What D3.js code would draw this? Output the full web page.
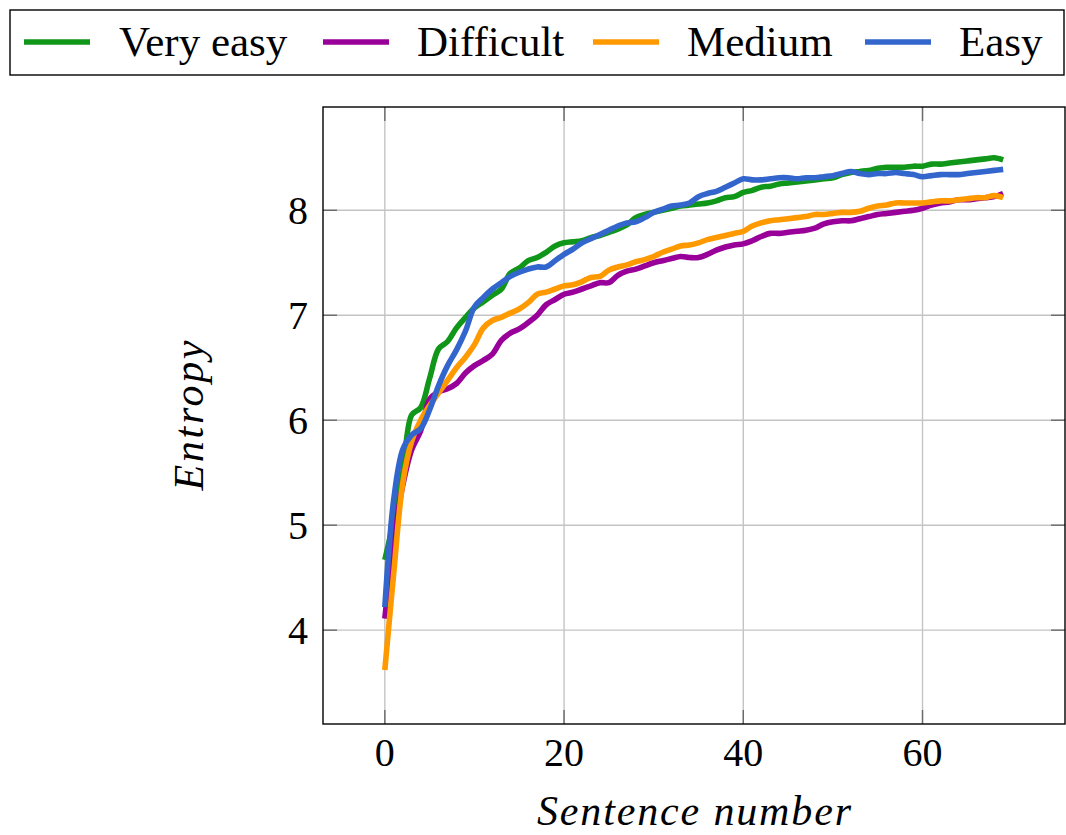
<!DOCTYPE html>
<html>
<head>
<meta charset="utf-8">
<script src="https://cdn.jsdelivr.net/npm/d3@7"></script>
</head>
<body style="margin:0">
<svg id="chart" width="1066" height="835"></svg>
<script>
// ---- data ----
const sentence = d3.range(0, 70);
const seriesNames = ["Very easy", "Difficult", "Medium", "Easy"];
const seriesColors = ["#109618", "#990099", "#ff9900", "#3366cc"];

const veryEasy = [4.67,5.05,5.50,6.05,6.12,6.40,6.68,6.75,6.88,6.98,
  7.07,7.13,7.19,7.25,7.40,7.45,7.52,7.55,7.60,7.66,
  7.69,7.70,7.71,7.74,7.76,7.79,7.82,7.86,7.93,7.96,
  7.98,8.00,8.02,8.04,8.05,8.06,8.07,8.09,8.12,8.13,
  8.17,8.19,8.22,8.23,8.25,8.26,8.27,8.28,8.29,8.30,
  8.31,8.34,8.36,8.37,8.38,8.40,8.41,8.41,8.41,8.42,
  8.42,8.44,8.44,8.45,8.46,8.47,8.48,8.49,8.50,8.48];
const difficult = [4.11,4.85,5.38,5.72,5.90,6.20,6.27,6.30,6.35,6.45,
  6.52,6.57,6.63,6.76,6.83,6.87,6.93,7.00,7.10,7.15,
  7.20,7.22,7.25,7.28,7.31,7.31,7.38,7.42,7.44,7.47,
  7.50,7.52,7.54,7.56,7.55,7.55,7.58,7.62,7.65,7.67,
  7.68,7.71,7.75,7.78,7.78,7.79,7.80,7.81,7.83,7.87,
  7.89,7.90,7.90,7.92,7.94,7.96,7.97,7.98,7.99,8.00,
  8.02,8.05,8.07,8.08,8.10,8.10,8.11,8.12,8.13,8.16];
const medium = [3.62,4.55,5.40,5.80,6.00,6.14,6.26,6.38,6.50,6.60,
  6.72,6.88,6.95,6.98,7.02,7.06,7.12,7.20,7.22,7.25,
  7.28,7.29,7.32,7.36,7.37,7.43,7.46,7.48,7.51,7.53,
  7.56,7.60,7.63,7.66,7.67,7.69,7.72,7.74,7.76,7.78,
  7.80,7.85,7.88,7.90,7.91,7.92,7.93,7.94,7.96,7.96,
  7.97,7.98,7.98,7.99,8.02,8.04,8.05,8.07,8.07,8.07,
  8.07,8.08,8.09,8.09,8.10,8.11,8.12,8.12,8.14,8.12];
const easy = [4.22,5.25,5.72,5.86,5.92,6.10,6.33,6.52,6.67,6.85,
  7.08,7.17,7.25,7.31,7.37,7.41,7.44,7.46,7.46,7.52,
  7.58,7.63,7.69,7.73,7.77,7.81,7.85,7.88,7.89,7.93,
  7.98,8.01,8.04,8.05,8.07,8.13,8.16,8.18,8.22,8.26,
  8.30,8.29,8.29,8.30,8.31,8.31,8.30,8.31,8.31,8.32,
  8.33,8.35,8.37,8.35,8.34,8.35,8.35,8.36,8.35,8.34,
  8.32,8.33,8.34,8.34,8.34,8.35,8.36,8.37,8.38,8.39];
const seriesValues = [veryEasy, difficult, medium, easy];

const xTicks = [0, 20, 40, 60];
const yTicks = [4, 5, 6, 7, 8];

// ---- layout ----
const FONT = "Liberation Serif";
const svg = d3.select("#chart");
const L = 323, R = 1065, T = 107, B = 724;

const x = d3.scaleLinear().domain([-6.9, 75.9]).range([L, R]);
const y = d3.scaleLinear().domain([3.106, 8.984]).range([B, T]);

// grid
const grid = svg.append("g");
grid.selectAll(".gx").data(xTicks).join("line")
  .attr("x1", d => x(d)).attr("x2", d => x(d)).attr("y1", T).attr("y2", B)
  .attr("stroke", "#c4c4c4").attr("stroke-width", 1.4);
grid.selectAll(".gy").data(yTicks).join("line")
  .attr("y1", d => y(d)).attr("y2", d => y(d)).attr("x1", L).attr("x2", R)
  .attr("stroke", "#c4c4c4").attr("stroke-width", 1.4);

// tick labels from the scales
const xLab = svg.append("g");
xTicks.forEach(t => {
  xLab.append("text").attr("x", x(t)).attr("y", B + 42).attr("text-anchor", "middle")
    .attr("font-family", FONT).attr("font-size", 40).text(d3.format("d")(t));
});
const yLab = svg.append("g");
yTicks.forEach(t => {
  yLab.append("text").attr("x", L - 15).attr("y", y(t) + 14).attr("text-anchor", "end")
    .attr("font-family", FONT).attr("font-size", 40).text(d3.format("d")(t));
});

// inward ticks on all four sides
const tickLen = 14;
const tickStyle = s => s.attr("stroke", "#6a6a6a").attr("stroke-width", 1.4);
const ticks = svg.append("g");
xTicks.forEach(t => {
  ticks.append("line").attr("x1", x(t)).attr("x2", x(t)).attr("y1", B).attr("y2", B - tickLen).call(tickStyle);
  ticks.append("line").attr("x1", x(t)).attr("x2", x(t)).attr("y1", T).attr("y2", T + tickLen).call(tickStyle);
});
yTicks.forEach(t => {
  ticks.append("line").attr("y1", y(t)).attr("y2", y(t)).attr("x1", L).attr("x2", L + tickLen).call(tickStyle);
  ticks.append("line").attr("y1", y(t)).attr("y2", y(t)).attr("x1", R).attr("x2", R - tickLen).call(tickStyle);
});

// lines
const lineGen = d3.line().x((d, i) => x(sentence[i])).y(d => y(d)).curve(d3.curveCatmullRom.alpha(0.5));
const lines = svg.append("g");
seriesValues.forEach((vals, k) => {
  lines.append("path").datum(vals).attr("d", lineGen)
    .attr("fill", "none").attr("stroke", seriesColors[k]).attr("stroke-width", 5.6)
    .attr("stroke-linejoin", "round");
});

// frame
svg.append("rect").attr("x", L).attr("y", T).attr("width", R - L).attr("height", B - T)
  .attr("fill", "none").attr("stroke", "#000").attr("stroke-width", 1.4);

// axis labels
svg.append("text").attr("x", (L + R) / 2).attr("y", 825).attr("text-anchor", "middle")
  .attr("font-family", FONT).attr("font-size", 42).attr("font-style", "italic")
  .attr("textLength", 314).attr("lengthAdjust", "spacing")
  .text("Sentence number");
svg.append("text").attr("transform", `translate(203,${(T + B) / 2}) rotate(-90)`).attr("text-anchor", "middle")
  .attr("font-family", FONT).attr("font-size", 42).attr("font-style", "italic")
  .attr("textLength", 150).attr("lengthAdjust", "spacing")
  .text("Entropy");

// legend
const leg = svg.append("g");
leg.append("rect").attr("x", 10).attr("y", 10).attr("width", 1054).attr("height", 65)
  .attr("fill", "#fff").attr("stroke", "#000").attr("stroke-width", 1.4);
const legLineX = [24, 323, 593, 865];
const legTextX = [119, 417, 687, 959];
seriesNames.forEach((name, k) => {
  leg.append("line").attr("x1", legLineX[k]).attr("x2", legLineX[k] + 66).attr("y1", 42).attr("y2", 42)
    .attr("stroke", seriesColors[k]).attr("stroke-width", 5.6);
  leg.append("text").attr("x", legTextX[k]).attr("y", 56)
    .attr("font-family", FONT).attr("font-size", 43).text(name);
});
</script>
</body>
</html>
